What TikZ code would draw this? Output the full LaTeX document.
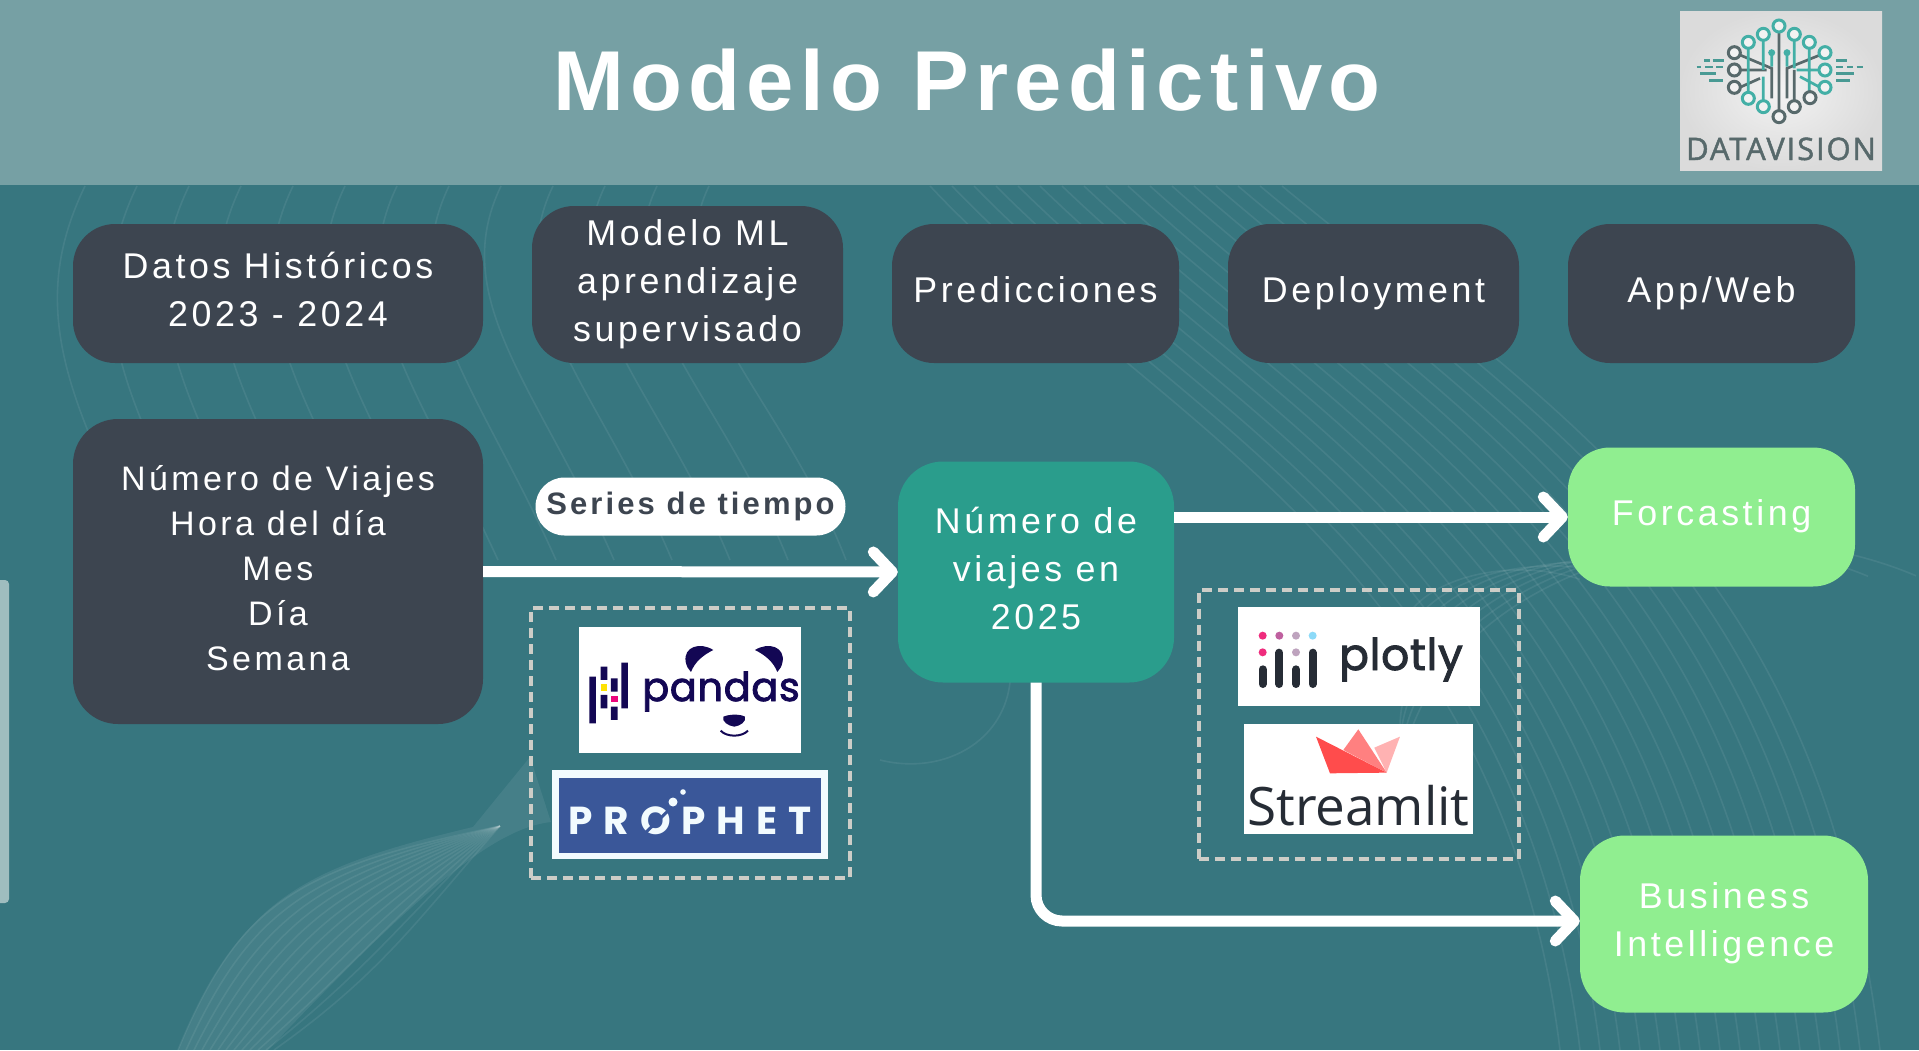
\documentclass[tikz,border=0pt]{standalone}
\usepackage{fontspec}
\usetikzlibrary{arrows.meta}
\setmainfont{Liberation Sans}
\newfontfamily\labelfont[LetterSpace=10]{Liberation Sans}
\newfontfamily\titlefont[LetterSpace=7.5]{Liberation Sans}
\newfontfamily\logofont[FakeBold=2,LetterSpace=1.5]{Poppins}
\newfontfamily\prophetfont[LetterSpace=28]{Poppins}
\newfontfamily\visionfont[FakeBold=1.5,LetterSpace=6]{Open Sans}
\newfontfamily\streamfont{Open Sans}
\definecolor{bgteal}{HTML}{37767F}
\definecolor{headbar}{HTML}{76A0A4}
\definecolor{darkbox}{HTML}{3D4550}
\definecolor{tealbox}{HTML}{2A9D8C}
\definecolor{greenbox}{HTML}{90EE90}
\definecolor{dashgrey}{HTML}{CDCDC7}
\definecolor{pandasnavy}{HTML}{130754}
\definecolor{prophetblue}{HTML}{3A5799}
\definecolor{plotlyink}{HTML}{262C35}
\definecolor{logoteal}{HTML}{43AFA6}
\definecolor{logogrey}{HTML}{57696B}

\begin{document}
\begin{tikzpicture}[
        x=1pt, y=-1pt,
        stage/.style={rectangle, rounded corners=42pt, fill=darkbox, text=white, inner sep=0pt, align=center,
            font=\labelfont\fontsize{35.8}{48}\selectfont, execute at end node={\rule[-8pt]{0pt}{0pt}}},
        result/.style={stage, fill=greenbox},
        datalist/.style={stage, rounded corners=45pt, font=\labelfont\fontsize{34}{45}\selectfont},
        flow/.style={draw=white, line width=11pt, -{Straight Barb[round,length=19pt,width=40pt]}},
        toolbox/.style={draw=dashgrey, line width=4pt, dash pattern=on 10pt off 6pt, inner sep=0pt},
        logobox/.style={fill=white, inner sep=0pt},
        swirl/.style={draw=white, opacity=0.07, line width=1.6pt}
    ]
    \useasboundingbox (0,0) rectangle (1919,1050);
    \fill[bgteal] (0,0) rectangle (1919,1050);

    % background lines
    \foreach \i in {0,...,12} {
        \draw[swirl] ({85+52*\i},186) .. controls ({30+52*\i},300) and ({60+60*\i},390) .. ({150+58*\i},560);
    }
    \foreach \i in {0,...,16} {
        \draw[swirl] ({930+22*\i},186) .. controls ({1150+26*\i},420) and ({1500+20*\i},560) .. ({1560+20*\i},1050);
    }
    \foreach \i in {0,...,7} {
        \draw[swirl] (1400,{640+22*\i}) arc[start angle=180, end angle=300, x radius={120+32*\i}, y radius={70+26*\i}];
    }
    \foreach \i in {0,...,12} {
        \draw[swirl] ({178+8*\i},1050) .. controls ({240+12*\i},{900+6*\i}) and ({300+10*\i},{868+4*\i}) .. (500,826);
    }
    \fill[white, opacity=0.07] (178,1050) .. controls (240,900) and (300,868) .. (473,827)
        -- (530,757) -- (551,822) .. controls (495,828) and (420,890) .. (268,1050) -- cycle;
    \draw[swirl] (1000,620) .. controls (1040,720) and (960,780) .. (880,760);

    \node[fill=headbar, minimum width=1919pt, minimum height=185pt, inner sep=0pt] (header) at (959.5,92.5) {};
    \node[text=white, font=\titlefont\bfseries\fontsize{85}{85}\selectfont] (title) at (967,80) {Modelo Predictivo};
    \node[fill=headbar!70!white, rounded corners=4pt, minimum width=16pt, minimum height=323pt, inner sep=0pt] (sidetab) at (1,741.5) {};

    % top row
    \node[stage, minimum width=410pt, minimum height=139pt] (datos) at (278,293.5) {Datos Históricos\\2023 - 2024};
    \node[stage, minimum width=311pt, minimum height=157pt] (modelo) at (687.5,284.5) {Modelo ML\\aprendizaje\\supervisado};
    \node[stage, minimum width=287pt, minimum height=139pt] (predicciones) at (1035.5,293.5) {Predicciones};
    \node[stage, minimum width=291pt, minimum height=139pt] (deployment) at (1373.5,293.5) {Deployment};
    \node[stage, minimum width=287pt, minimum height=139pt] (appweb) at (1711.5,293.5) {App/Web};

    % flow row
    \node[datalist, minimum width=410pt, minimum height=305pt] (viajes) at (278,571.5) {Número de Viajes\\Hora del día\\Mes\\Día\\Semana};
    \node[stage, rounded corners=45pt, fill=tealbox, minimum width=276pt, minimum height=221pt] (numero) at (1036,572) {Número de\\viajes en\\2025};
    \node[result, minimum width=287pt, minimum height=139pt] (forcasting) at (1711.5,517) {Forcasting};
    \node[result, rounded corners=45pt, minimum width=288pt, minimum height=177pt] (business) at (1724,924) {Business\\Intelligence};
    \node[fill=white, rounded corners=29pt, minimum width=310pt, minimum height=58pt, inner sep=0pt, text=darkbox,
        font=\labelfont\bfseries\fontsize{31}{31}\selectfont] (serie) at (690.5,506.5) {Series de tiempo};

    \draw[flow] (viajes.east) -- (numero.west);
    \draw[flow] (numero.east |- forcasting.west) -- (forcasting.west);
    \draw[flow, rounded corners=26pt] (numero.south) |- ([yshift=3pt]business.west);

    % dashed groups
    \node[toolbox, minimum width=319pt, minimum height=270pt] (leftgroup) at (690.5,743) {};
    \node[toolbox, minimum width=320pt, minimum height=269pt] (rightgroup) at (1358.5,724) {};

    % pandas
    \node[logobox, minimum width=222pt, minimum height=126pt] (pandasbox) at (690,690) {};
    \begin{scope}[shift={(520,460)}, x=0.3333pt, y=-0.3333pt]
        \fill[pandasnavy] (208,650) rectangle (228,790) (242,620) rectangle (262,660) (242,705) rectangle (262,745)
            (273,655) rectangle (293,695) (273,740) rectangle (293,780) (304,608) rectangle (324,745);
        \fill[yellow!85!orange] (242,673) rectangle (262,692);
        \fill[magenta!85!red] (273,707) rectangle (293,725);
        \fill[pandasnavy] (580,570) .. controls (540,545) and (490,560) .. (497,605) .. controls (500,620) and (505,628) .. (513,636) .. controls (525,605) and (550,585) .. (580,570) -- cycle;
        \fill[pandasnavy] (705,570) .. controls (745,545) and (795,560) .. (788,605) .. controls (785,620) and (780,628) .. (772,636) .. controls (760,605) and (735,585) .. (705,570) -- cycle;
        \fill[pandasnavy] (610,770) .. controls (630,762) and (660,762) .. (675,770) .. controls (680,785) and (660,798) .. (643,800) .. controls (625,798) and (605,785) .. (610,770) -- cycle;
        \draw[pandasnavy, line width=2pt] (602,812) .. controls (620,832) and (665,832) .. (684,812);
    \end{scope}
    \node[text=pandasnavy, font=\logofont\fontsize{40}{40}\selectfont, inner sep=0pt, anchor=base west] (pandastext) at (642,701) {pandas};

    % prophet
    \node[fill=white!95!cyan, minimum width=276pt, minimum height=89pt, inner sep=0pt] (prophetbox) at (690,814.5) {};
    \node[fill=prophetblue, minimum width=262pt, minimum height=75pt, inner sep=0pt, text=white!95!cyan, text height=37pt, text depth=0pt,
        font=\prophetfont\bfseries\fontsize{39}{39}\selectfont] (prophettext) at (690,815.5) {PROPHET};
    \fill[white!95!cyan] (673,802) circle (4.5pt) (683,792) circle (2.8pt);
    \draw[prophetblue, line width=3pt] (671,808) -- (640,838);

    % plotly
    \node[logobox, minimum width=242pt, minimum height=99pt] (plotlybox) at (1358.5,656.5) {};
    \begin{scope}[shift={(1190,580)}, x=0.3333pt, y=-0.3333pt]
        \fill[magenta!70!red!85!white] (218,167) circle (4pt) (218,217) circle (4pt);
        \fill[violet!50!pink] (268,167) circle (4pt);
        \fill[violet!30!white!70!gray] (318,167) circle (4pt) (318,217) circle (4pt);
        \fill[cyan!45!white] (368,167) circle (4pt);
        \draw[plotlyink, line width=8pt, line cap=round] (218,268) -- (218,312) (268,218) -- (268,312) (318,268) -- (318,312) (368,218) -- (368,312);
    \end{scope}
    \node[text=plotlyink, font=\logofont\fontsize{44}{44}\selectfont, inner sep=0pt, anchor=base west] (plotlytext) at (1339,670) {plotly};

    % streamlit
    \node[logobox, minimum width=229pt, minimum height=110pt] (streamlitbox) at (1358.5,779) {};
    \begin{scope}[shift={(1190,580)}, x=0.3333pt, y=-0.3333pt]
        \fill[red!30!white] (553,503) -- (630,470) -- (590,578) -- cycle;
        \fill[red!50!white] (460,510) -- (505,448) -- (590,578) -- cycle;
        \fill[red!70!white] (378,470) -- (590,578) -- (420,580) -- cycle;
    \end{scope}
    \node[text=plotlyink, font=\streamfont\fontsize{53}{53}\selectfont, inner sep=0pt, anchor=base] (streamlittext) at (1358.5,825) {Streamlit};

    % datavision logo
    \shade[inner color=white!90!gray, outer color=black!14] (1680,11) rectangle (1882,170);
    \begin{scope}[shift={(1640,0)}, x=0.3333pt, y=-0.3333pt]
        \draw[logogrey, line width=2.7pt] (417,98) -- (417,330) (395,295) -- (395,205) -- (300,165) (441,295) -- (441,205) -- (540,165)
            (300,210) -- (380,210) (300,262) -- (360,235) (463,300) -- (463,210);
        \draw[logoteal, line width=2.7pt] (370,123) -- (370,210) (463,123) -- (463,205) (325,147) -- (325,275) (508,147) -- (508,275)
            (370,230) -- (370,300) (480,230) -- (540,262) (470,210) -- (535,210) (395,158) -- (395,200) (441,158) -- (441,200);
        \fill[logoteal] (395,158) circle (3.5pt) (441,158) circle (3.5pt);
        \foreach \x/\y in {417/78,370/103,325/127,463/103,508/127,555/158,555/210,555/262,325/295,370/320} {
            \draw[logoteal, fill=white!90!gray, line width=3pt] (\x,\y) circle (6pt);
        }
        \foreach \x/\y in {283/158,283/210,283/262,417/350,463/320,510/293} {
            \draw[logogrey, fill=white!90!gray, line width=3pt] (\x,\y) circle (6pt);
        }
        \draw[logoteal!70!logogrey, line width=2.5pt] (192,181) -- (210,181) (218,181) -- (252,181) (170,201) -- (182,201) (195,201) -- (218,201) (228,201) -- (250,201)
            (180,221) -- (228,221) (207,241) -- (250,241) (588,181) -- (622,181) (588,201) -- (610,201) (622,201) -- (640,201) (650,201) -- (668,201)
            (588,221) -- (642,221) (588,241) -- (630,241);
    \end{scope}
    \node[text=logogrey, font=\visionfont\fontsize{31}{31}\selectfont, inner sep=0pt, anchor=base] (logotext) at (1781,160) {DATAVISION};
\end{tikzpicture}
\end{document}
